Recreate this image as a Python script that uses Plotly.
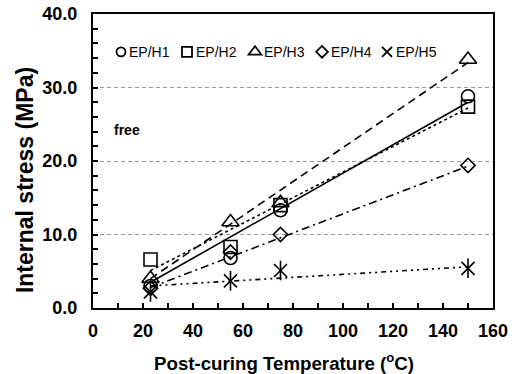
import plotly.graph_objects as go

# Post-curing temperatures (°C)
temperature = [23, 55, 75, 150]

# Measured internal stress (MPa) for each system
series_names = ["EP/H1", "EP/H2", "EP/H3", "EP/H4", "EP/H5"]
stress_h1 = [3.0, 6.8, 13.3, 28.8]
stress_h2 = [6.6, 8.3, 14.0, 27.4]
stress_h3 = [4.0, 11.7, 14.3, 33.8]
stress_h4 = [2.7, 7.6, 10.0, 19.4]
stress_h5 = [2.2, 3.7, 5.1, 5.4]

# Linear trend lines: values at the ends of the temperature range
trend_temperature = [23, 150]
trend_h1 = [3.5, 28.0]
trend_h2 = [5.1, 27.2]
trend_h3 = [4.0, 33.4]
trend_h4 = [2.8, 19.3]
trend_h5 = [3.0, 5.6]

y_tick_values = [0, 10, 20, 30, 40]
x_tick_values = [0, 20, 40, 60, 80, 100, 120, 140, 160]

measured = [stress_h1, stress_h2, stress_h3, stress_h4, stress_h5]
trends = [trend_h1, trend_h2, trend_h3, trend_h4, trend_h5]
symbols = ["circle-open", "square-open", "triangle-up-open", "diamond-open", "x-thin-open"]
sizes = [13, 13, 15, 11, 13]
legend_sizes = [9, 10, 11, 9, 10]
dashes = ["solid", "dot", "8px,5px", "8px,4px,2px,4px", "5px,4px,2px,4px,2px,4px"]

# plot-area geometry in pixels (used to lay out the key row along the top)
plot_left, plot_width = 93, 400
key_symbol_px = [122, 188, 256, 323, 388]
key_label_px = [127, 194, 262, 329, 394]
key_row_y = 0.87
legend_ids = ["legend", "legend2", "legend3", "legend4", "legend5"]

fig = go.Figure()

for name, trend, dash in zip(series_names, trends, dashes):
    fig.add_trace(go.Scatter(
        x=trend_temperature, y=trend, mode="lines",
        line=dict(color="black", width=1.6, dash=dash),
        showlegend=False, hoverinfo="skip",
    ))

for name, values, sym, size in zip(series_names, measured, symbols, sizes):
    fig.add_trace(go.Scatter(
        x=temperature, y=values, mode="markers", name=name,
        marker=dict(symbol=sym, size=size, color="black",
                    line=dict(color="black", width=1.6)),
        showlegend=False,
    ))

# vertical stroke completing the six-armed star of EP/H5
fig.add_trace(go.Scatter(
    x=temperature, y=stress_h5, mode="markers", showlegend=False,
    marker=dict(symbol="line-ns-open", size=14, color="black",
                line=dict(color="black", width=1.6)),
))

# key symbols: one small legend box per series, labels set tight beside them
for name, sym, size, lid in zip(series_names, symbols, legend_sizes, legend_ids):
    fig.add_trace(go.Scatter(
        x=[None], y=[None], mode="markers", name=" ", legend=lid,
        legendgroup=name,
        marker=dict(symbol=sym, size=size, color="black",
                    line=dict(color="black", width=1.8)),
    ))

legend_style = dict(
    orientation="h", y=key_row_y, xanchor="left", yanchor="middle",
    font=dict(family="Liberation Sans, Arial", size=14, color="black"),
    bgcolor="rgba(0,0,0,0)", itemwidth=30, borderwidth=0,
)
legend_layout = {
    lid: dict(legend_style, x=(px - 21 - plot_left) / plot_width)
    for lid, px in zip(legend_ids, key_symbol_px)
}

for name, px in zip(series_names, key_label_px):
    fig.add_annotation(
        x=(px - plot_left) / plot_width, y=key_row_y, xref="paper", yref="paper",
        text=name, showarrow=False, xanchor="left", yanchor="middle",
        font=dict(family="Liberation Sans, Arial", size=14, color="black"),
    )

fig.add_annotation(
    x=7.5, y=24.2, xref="x", yref="y", text="<b>free</b>",
    showarrow=False, xanchor="left", yanchor="middle",
    font=dict(family="Liberation Sans, Arial", size=14, color="black"),
)

# axis titles
fig.add_annotation(
    x=0.4775, y=-0.182, xref="paper", yref="paper",
    text="<b>Post-curing Temperature (<sup>o</sup>C)</b>", showarrow=False,
    xanchor="center", yanchor="middle",
    font=dict(family="Liberation Sans, Arial", size=18.7, color="black"),
)
fig.add_annotation(
    x=-0.17, y=0.435, xref="paper", yref="paper",
    text="<b>Internal stress (MPa)</b>", showarrow=False, textangle=-90,
    xanchor="center", yanchor="middle",
    font=dict(family="Liberation Sans, Arial", size=23, color="black"),
)

axis_font = dict(family="Liberation Sans, Arial", size=18, color="black", weight="bold")

fig.update_layout(
    width=515, height=374,
    margin=dict(l=93, r=22, t=14, b=66, autoexpand=False),
    paper_bgcolor="white", plot_bgcolor="white",
    font=dict(family="Liberation Sans, Arial", color="black"),
    xaxis=dict(
        range=[0, 160], tickvals=x_tick_values,
        ticks="inside", ticklen=5, tickwidth=1.5, tickcolor="black",
        minor=dict(dtick=10, ticks="inside", ticklen=5, tickwidth=1.5, tickcolor="black"),
        showline=True, linewidth=2, linecolor="black", mirror=True,
        showgrid=False, zeroline=False, tickfont=axis_font, ticklabelstandoff=5,
    ),
    yaxis=dict(
        range=[0, 40], tickvals=y_tick_values, tickformat=".1f",
        ticks="inside", ticklen=5, tickwidth=1.5, tickcolor="black",
        minor=dict(dtick=2, ticks="inside", ticklen=5, tickwidth=1.5, tickcolor="black"),
        showline=True, linewidth=2, linecolor="black", mirror=True,
        showgrid=True, gridcolor="#999999", gridwidth=1, griddash="4px,3px",
        zeroline=False, tickfont=axis_font, ticklabelstandoff=10,
    ),
    **legend_layout,
)

fig.write_html("out.html")
